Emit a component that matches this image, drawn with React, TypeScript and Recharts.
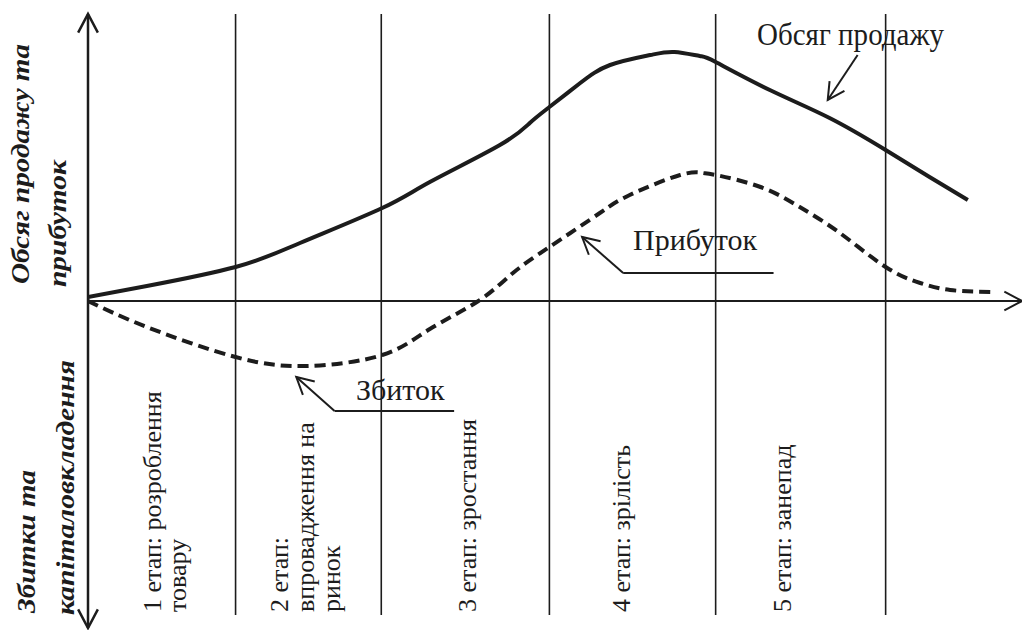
import React from "react";
import { LineChart, Line, XAxis, YAxis, ReferenceLine } from "recharts";

// Life-cycle curves (x: time units 0..100, y: + profit/sales, - losses)
const salesX = [0, 6.3, 15.8, 22.7, 31.5, 36.6, 44.1, 47.3, 49.4, 52.7, 55.9, 60.2, 62.8, 65.5, 67.2, 73.0, 79.4, 85.4, 90.1, 94.2];
const salesY = [0.4, 1.5, 3.4, 5.8, 9.3, 11.9, 15.6, 17.8, 19.4, 21.8, 23.6, 24.6, 24.9, 24.5, 23.9, 21.1, 18.3, 15.1, 12.4, 10.1];

const profitX = [0, 6.3, 15.8, 23.4, 31.5, 36.6, 41.8, 45.5, 49.4, 54.8, 58.0, 63.4, 65.8, 67.2, 72.0, 76.2, 80.5, 85.4, 89.1, 92.3, 96.6];
const profitY = [0, -2.6, -5.6, -6.5, -5.4, -2.8, 0, 2.8, 5.4, 8.8, 10.6, 12.6, 12.8, 12.6, 11.4, 9.4, 6.8, 3.4, 1.8, 1.1, 0.9];

const stageBounds = [15.8, 31.4, 49.4, 67.2, 85.4];
const stageLabels = [
  ["1 етап: розроблення", "товару"],
  ["2 етап:", "впровадження на", "ринок"],
  ["3 етап: зростання"],
  ["4 етап: зрілість"],
  ["5 етап: занепад"],
];
const axisTitleUp = ["Обсяг продажу та", "прибуток"];
const axisTitleDown = ["Збитки та", "капіталовкладення"];

const X_DOMAIN: [number, number] = [0, 100];
const Y_DOMAIN: [number, number] = [-32.7, 28.7];

const salesData = salesX.map((x, i) => ({ x, v: salesY[i] }));
const profitData = profitX.map((x, i) => ({ x, v: profitY[i] }));

const INK = "#1c1c1c";
const SERIF = "'Liberation Serif', 'Times New Roman', Times, serif";

// line with open arrowheads at start and/or end
const arrowShape = (opts: { start?: boolean; end?: boolean; len?: number; width?: number; ang?: number }) =>
  (p: any) => {
    const { x1, y1, x2, y2 } = p;
    const len = opts.len ?? 18;
    const ang = ((opts.ang ?? 28) * Math.PI) / 180;
    const head = (tx: number, ty: number, fx: number, fy: number) => {
      const a = Math.atan2(fy - ty, fx - tx);
      const ax = tx + len * Math.cos(a + ang);
      const ay = ty + len * Math.sin(a + ang);
      const bx = tx + len * Math.cos(a - ang);
      const by = ty + len * Math.sin(a - ang);
      return `M${ax},${ay} L${tx},${ty} L${bx},${by}`;
    };
    return (
      <g>
        <line x1={x1} y1={y1} x2={x2} y2={y2} stroke={INK} strokeWidth={opts.width ?? 2} />
        {opts.end && <path d={head(x2, y2, x1, y1)} fill="none" stroke={INK} strokeWidth={opts.width ?? 2} />}
        {opts.start && <path d={head(x1, y1, x2, y2)} fill="none" stroke={INK} strokeWidth={opts.width ?? 2} />}
      </g>
    );
  };

// stage label columns (baseline x for each line), text runs upward from y=612
const stageCols = [[161, 186], [288, 314, 340], [476], [630], [791]];

const serif = { fontFamily: SERIF };
const titleStyle = { fontFamily: SERIF, fontWeight: 700, fontStyle: "italic" as const, fontSize: 26 };

// vertical title: baseline x, start y, length along the text
const Title = ({ x, y, len, children }: { x: number; y: number; len: number; children: string }) => (
  <text x={x} y={y} style={titleStyle} textLength={len} lengthAdjust="spacingAndGlyphs" transform={`rotate(-90 ${x} ${y})`}>
    {children}
  </text>
);

export default function App() {
  return (
    <div style={{ position: "absolute", left: 0, top: 0, width: 1022, height: 630, background: "#fff" }}>
      <LineChart width={1022} height={630} margin={{ top: 14, right: 0, bottom: 2, left: 88 }}>
        <XAxis type="number" dataKey="x" domain={X_DOMAIN} hide allowDataOverflow />
        <YAxis type="number" dataKey="v" domain={Y_DOMAIN} hide allowDataOverflow />

        {stageBounds.map((b) => (
          <ReferenceLine
            key={b}
            segment={[{ x: b, y: 28.7 }, { x: b, y: -31.4 }]}
            stroke={INK}
            strokeWidth={1.6}
            ifOverflow="visible"
          />
        ))}

        {/* axes */}
        <ReferenceLine
          segment={[{ x: 0, y: 0 }, { x: 100, y: 0 }]}
          ifOverflow="visible"
          shape={arrowShape({ end: true, len: 20, width: 2 })}
        />
        <ReferenceLine
          segment={[{ x: 0, y: -32.7 }, { x: 0, y: 28.7 }]}
          ifOverflow="visible"
          shape={arrowShape({ start: true, end: true, len: 21, width: 2.5 })}
        />

        {/* annotation leaders */}
        <ReferenceLine
          segment={[{ x: 82.4, y: 24.6 }, { x: 79.2, y: 20.1 }]}
          ifOverflow="visible"
          shape={arrowShape({ end: true, len: 19, width: 2 })}
        />
        <ReferenceLine segment={[{ x: 73.4, y: 2.8 }, { x: 57.3, y: 2.8 }]} ifOverflow="visible" stroke={INK} strokeWidth={2} />
        <ReferenceLine
          segment={[{ x: 57.3, y: 2.8 }, { x: 52.9, y: 6.4 }]}
          ifOverflow="visible"
          shape={arrowShape({ end: true, len: 19, width: 2 })}
        />
        <ReferenceLine segment={[{ x: 39.2, y: -11 }, { x: 26.4, y: -11 }]} ifOverflow="visible" stroke={INK} strokeWidth={2} />
        <ReferenceLine
          segment={[{ x: 26.4, y: -11 }, { x: 22.3, y: -7.6 }]}
          ifOverflow="visible"
          shape={arrowShape({ end: true, len: 19, width: 2 })}
        />

        <Line
          data={salesData}
          dataKey="v"
          type="natural"
          stroke={INK}
          strokeWidth={4}
          dot={false}
          activeDot={false}
          isAnimationActive={false}
        />
        <Line
          data={profitData}
          dataKey="v"
          type="natural"
          stroke={INK}
          strokeWidth={4}
          strokeDasharray="11 6"
          dot={false}
          activeDot={false}
          isAnimationActive={false}
        />

        <g fill={INK}>
          <text x={757} y={45} fontSize={32} style={serif} textLength={187} lengthAdjust="spacingAndGlyphs">
            Обсяг продажу
          </text>
          <text x={633} y={250} fontSize={30} style={serif}>Прибуток</text>
          <text x={356} y={400} fontSize={30} style={serif}>Збиток</text>

          {stageLabels.map((lines, i) =>
            lines.map((t, j) => (
              <text
                key={`${i}-${j}`}
                x={stageCols[i][j]}
                y={612}
                fontSize={26}
                style={serif}
                transform={`rotate(-90 ${stageCols[i][j]} 612)`}
              >
                {t}
              </text>
            ))
          )}

          <Title x={29} y={284} len={240}>{axisTitleUp[0]}</Title>
          <Title x={66} y={287} len={127}>{axisTitleUp[1]}</Title>
          <Title x={35} y={613} len={143}>{axisTitleDown[0]}</Title>
          <Title x={74} y={615} len={255}>{axisTitleDown[1]}</Title>
        </g>
      </LineChart>
    </div>
  );
}
